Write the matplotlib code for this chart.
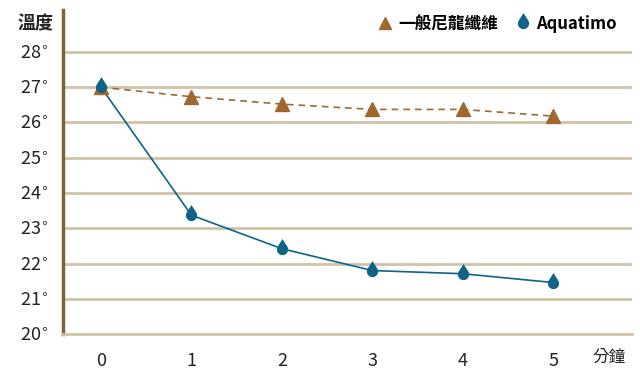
import matplotlib
matplotlib.use("Agg")
import matplotlib.pyplot as plt
from matplotlib.path import Path
from matplotlib.lines import Line2D

plt.rcParams['font.family'] = ['Noto Sans CJK TC', 'DejaVu Sans']

minutes = [0, 1, 2, 3, 4, 5]
nylon = [27.0, 26.73, 26.52, 26.37, 26.37, 26.18]
aquatimo = [27.0, 23.37, 22.42, 21.80, 21.71, 21.46]
y_ticks = [20, 21, 22, 23, 24, 25, 26, 27, 28]
y_labels = [f"{v}" + r"$^{\circ}$" for v in y_ticks]

c_nylon = "#a0672f"
c_aqua = "#0d6486"
c_grid = "#cfc3a6"
c_spine = "#7d6535"
c_text = "#222222"
tick_font = ['Liberation Sans Narrow', 'Noto Sans CJK TC', 'DejaVu Sans']

# drop shaped marker: round body with a pointed tip on top
arc = Path.arc(145, 395)
verts = list(arc.vertices) + [(0, 1.85), (0, 0)]
codes = list(arc.codes) + [Path.LINETO, Path.CLOSEPOLY]
drop = Path(verts, codes)

fig = plt.figure(figsize=(6.4, 3.77), dpi=100)
ax = fig.add_axes([0.0984, 0.114, 0.889, 0.8595])

for v in y_ticks[1:]:
    ax.axhline(v, color=c_grid, lw=2, zorder=1)

ax.plot(minutes, nylon, color=c_nylon, lw=1.2, ls=(0, (4, 3)), zorder=2)
ax.plot(minutes, nylon, ls='none', marker='^', ms=10, color=c_nylon, zorder=3)
ax.plot(minutes, aquatimo, color=c_aqua, lw=1.2, zorder=2)
ax.plot(minutes, aquatimo, ls='none', marker=drop, ms=15, color=c_aqua,
        markeredgewidth=0, zorder=4)

ax.set_xlim(-0.42, 5.87)
ax.set_ylim(20, 29.19)
ax.set_yticks(y_ticks)
ax.set_yticklabels(y_labels, fontsize=13, color=c_text, family=tick_font)
ax.set_xticks(minutes)
ax.set_xticklabels([str(m) for m in minutes], fontsize=13, color=c_text,
                   family=tick_font)
ax.tick_params(length=0)
ax.tick_params(axis='x', pad=13)
ax.tick_params(axis='y', pad=11)

for s in ['top', 'right']:
    ax.spines[s].set_visible(False)
ax.spines['left'].set_color(c_spine)
ax.spines['left'].set_linewidth(2.5)
ax.spines['bottom'].set_color(c_grid)
ax.spines['bottom'].set_linewidth(2)

fig.text(0.055, 0.937, "溫度", fontsize=13, fontweight='bold',
         ha='center', va='center', color=c_text)
fig.text(0.952, 0.053, "分鐘", fontsize=12, ha='center', va='center',
         color=c_text)

handles = [
    Line2D([], [], ls='none', marker='^', ms=9, color=c_nylon),
    Line2D([], [], ls='none', marker=drop, ms=15, color=c_aqua, markeredgewidth=0),
]
ax.legend(handles, ["一般尼龍纖維", "Aquatimo"], loc='upper right',
          bbox_to_anchor=(1.0, 1.03), ncol=2, frameon=False,
          prop={'size': 12, 'weight': 'bold'}, handletextpad=0.3,
          columnspacing=1.0, handlelength=1.0)

fig.savefig("out.png", dpi=100)
